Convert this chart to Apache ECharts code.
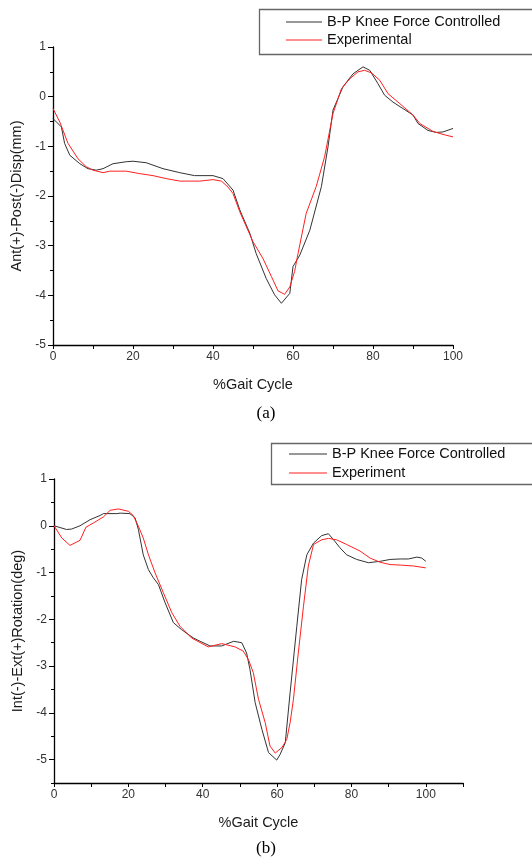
<!DOCTYPE html>
<html>
<head>
<meta charset="utf-8">
<script src="https://cdn.jsdelivr.net/npm/echarts@6/dist/echarts.min.js"></script>
<style>
  html,body{margin:0;padding:0;background:#fff;}
  #main{width:532px;height:859px;}
</style>
</head>
<body>
<div id="main"></div>
<script>
'use strict';
// (a) Ant/Post displacement
var dispBpX = [0,2.1,2.9,4.2,6.7,8.75,10.8,12.5,15,18.3,20,23.3,27.5,31.7,35.4,40,42.5,45,46.7,49.2,50.8,53.3,55.4,57.1,59.2,60,61.7,64.2,67.1,68.75,70,72.5,75,77.5,79.2,81.25,82.9,85,87.5,90,91.25,93.75,95.8,97.5,100];
var dispBpY = [-0.44,-0.61,-0.94,-1.18,-1.35,-1.45,-1.48,-1.45,-1.35,-1.31,-1.30,-1.33,-1.45,-1.53,-1.59,-1.59,-1.65,-1.88,-2.28,-2.75,-3.16,-3.66,-3.99,-4.16,-3.96,-3.42,-3.19,-2.69,-1.81,-1.01,-0.27,0.20,0.46,0.60,0.53,0.26,0.03,-0.11,-0.24,-0.37,-0.54,-0.68,-0.72,-0.71,-0.64];
var dispExpX = [0,1.7,3.75,6.25,8.3,10,12.5,14.2,18.3,21.7,25,28.3,31.7,36.7,40,42.1,43.75,45,46.7,50,52.5,54.6,56.25,57.9,59.2,60.4,61.25,63.3,65.8,67.9,70,72.1,74.2,76.25,77.9,79.6,81.7,83.75,86.7,90,91.7,95,97.5,100];
var dispExpY = [-0.24,-0.51,-0.94,-1.25,-1.41,-1.48,-1.53,-1.50,-1.50,-1.55,-1.59,-1.65,-1.70,-1.70,-1.67,-1.70,-1.82,-1.95,-2.32,-2.92,-3.26,-3.62,-3.91,-3.98,-3.83,-3.52,-3.16,-2.35,-1.81,-1.21,-0.34,0.16,0.36,0.50,0.53,0.48,0.33,0.06,-0.14,-0.37,-0.54,-0.70,-0.76,-0.81];

// (b) Int/Ext rotation
var rotBpX = [0,3.4,4.75,7,9.7,12.4,13.3,16.9,17.8,20.4,21.8,22.7,24,25.4,26.7,28.1,29.9,32.1,34.3,37.5,39.3,42,45.1,48.3,50.5,51.8,52.7,54.1,55.9,57.7,59.9,60.8,62.2,63.5,65.3,66.6,68,69.8,72,73.8,75.2,76.9,78.7,81.4,84.6,87.7,90.4,93.1,95.3,97.6,98.9,100];
var rotBpY = [0,-0.08,-0.07,0,0.13,0.22,0.26,0.26,0.27,0.26,0.17,-0.08,-0.62,-0.94,-1.11,-1.26,-1.65,-2.07,-2.22,-2.40,-2.47,-2.57,-2.57,-2.47,-2.50,-2.72,-3.07,-3.78,-4.35,-4.85,-5.01,-4.89,-4.64,-3.57,-2.15,-1.15,-0.62,-0.37,-0.21,-0.17,-0.30,-0.47,-0.62,-0.72,-0.79,-0.76,-0.72,-0.71,-0.71,-0.67,-0.69,-0.76];
var rotExpX = [0,2.1,4.3,7,8.6,10.6,13.3,15.1,17.3,20,21.3,22.7,24,25.4,27.2,29.4,31.7,33.9,37,41.5,45.1,48.7,50.9,52.3,53.6,55,56.8,58.1,59.5,61.3,62.6,63.5,64.4,65.7,67.1,68.4,69.8,72,73.8,76,78.7,82.3,85,87.7,90.4,93.1,96.7,100];
var rotExpY = [0,-0.26,-0.42,-0.31,-0.03,0.06,0.19,0.33,0.36,0.31,0.22,-0.01,-0.26,-0.62,-1.01,-1.43,-1.86,-2.15,-2.40,-2.59,-2.52,-2.59,-2.68,-2.86,-3.14,-3.71,-4.21,-4.71,-4.86,-4.74,-4.57,-4.21,-3.71,-2.72,-1.72,-0.86,-0.40,-0.30,-0.27,-0.30,-0.40,-0.54,-0.69,-0.78,-0.83,-0.84,-0.86,-0.90];

// tick positions for the lower y axis (it stops at -5.5)
var rotMajorTicks = [-5,-4,-3,-2,-1,0,1];
var rotHalfTicks = [-5.5,-4.5,-3.5,-2.5,-1.5,-0.5,0.5];

var FONT = '"Liberation Sans", Arial, sans-serif';

function pairs(xs, ys){
  var out = [];
  for (var i = 0; i < xs.length; i++) { out.push([xs[i], ys[i]]); }
  return out;
}

var nameStyle = {fontFamily:FONT, fontSize:14.5, color:'#1a1a1a'};
var labelStyle = {fontFamily:FONT, fontSize:12, color:'#333', margin:7};
var legendText = {fontFamily:FONT, fontSize:14.5, lineHeight:16, color:'#111'};

function xAxisOf(idx, max){
  return {
    type:'value', gridIndex:idx, min:0, max:max, interval:10,
    name:'%Gait Cycle', nameLocation:'middle', nameGap:32, nameTextStyle:nameStyle,
    axisLine:{onZero:false, lineStyle:{color:'#000', width:1.3}},
    axisTick:{length:4, lineStyle:{color:'#000'}},
    axisLabel:{fontFamily:FONT, fontSize:12, color:'#333', margin:6,
      formatter:function(v){ return (v % 20 === 0 && v <= 100) ? v : ''; }},
    splitLine:{show:false}
  };
}

var myChart = echarts.init(document.getElementById('main'), null, {renderer:'canvas'});
var option = {
  backgroundColor:'#fff',
  animation:false,
  grid:[
    {left:53, top:47, width:400, height:298},
    {left:54, top:479, width:409, height:304}
  ],
  xAxis:[xAxisOf(0, 100), xAxisOf(1, 110)],
  yAxis:[
    {
      type:'value', gridIndex:0, min:-5, max:1, interval:1,
      name:'Ant(+)-Post(-)Disp(mm)', nameLocation:'middle', nameGap:28, nameTextStyle:nameStyle,
      axisLine:{onZero:false, lineStyle:{color:'#000', width:1.3}},
      axisTick:{length:5, lineStyle:{color:'#000'}},
      minorTick:{show:true, splitNumber:2, length:3, lineStyle:{color:'#000'}},
      axisLabel:labelStyle, splitLine:{show:false}
    },
    {
      type:'value', gridIndex:1, min:-5.5, max:1,
      name:'Int(-)-Ext(+)Rotation(deg)', nameLocation:'middle', nameGap:28, nameTextStyle:nameStyle,
      axisLine:{onZero:false, lineStyle:{color:'#000', width:1.3}},
      axisTick:{length:5, customValues:rotMajorTicks, lineStyle:{color:'#000'}},
      axisLabel:Object.assign({customValues:rotMajorTicks}, labelStyle),
      splitLine:{show:false}
    },
    {
      //short half ticks only
      type:'value', gridIndex:1, min:-5.5, max:1, position:'left',
      axisLine:{show:false},
      axisTick:{length:3, customValues:rotHalfTicks, lineStyle:{color:'#000'}},
      axisLabel:{show:false}, splitLine:{show:false}
    }
  ],
  legend:[
    {orient:'vertical', left:286, top:14, padding:0, itemWidth:36, itemHeight:1, itemGap:2, icon:'rect',
      textStyle:legendText, data:['B-P Knee Force Controlled','Experimental']},
    {orient:'vertical', left:289, top:446, padding:0, itemWidth:38, itemHeight:1, itemGap:3, icon:'rect',
      textStyle:legendText, data:['B-P Knee Force Controlled ','Experiment']}
  ],
  title:[
    {text:'(a)', left:'center', top:400,
      textStyle:{fontFamily:'"Liberation Serif", "Times New Roman", serif', fontSize:17, fontWeight:'normal', color:'#000'}},
    {text:'(b)', left:'center', top:835,
      textStyle:{fontFamily:'"Liberation Serif", "Times New Roman", serif', fontSize:17, fontWeight:'normal', color:'#000'}}
  ],
  graphic:[
    //legend frames
    {type:'rect', shape:{x:259.5, y:9.5, width:300, height:45}, style:{fill:'none', stroke:'#666', lineWidth:1.3}, z:-1},
    {type:'rect', shape:{x:271.5, y:443.5, width:300, height:41}, style:{fill:'none', stroke:'#666', lineWidth:1.3}, z:-1}
  ],
  series:[
    {name:'B-P Knee Force Controlled', type:'line', xAxisIndex:0, yAxisIndex:0, data:pairs(dispBpX, dispBpY),
      symbol:'none', lineStyle:{color:'#333', width:1}, itemStyle:{color:'#333'}},
    {name:'Experimental', type:'line', xAxisIndex:0, yAxisIndex:0, data:pairs(dispExpX, dispExpY),
      symbol:'none', lineStyle:{color:'#ff2020', width:1}, itemStyle:{color:'#ff2020'}},
    {name:'B-P Knee Force Controlled ', type:'line', xAxisIndex:1, yAxisIndex:1, data:pairs(rotBpX, rotBpY),
      symbol:'none', lineStyle:{color:'#333', width:1}, itemStyle:{color:'#333'}},
    {name:'Experiment', type:'line', xAxisIndex:1, yAxisIndex:1, data:pairs(rotExpX, rotExpY),
      symbol:'none', lineStyle:{color:'#ff2020', width:1}, itemStyle:{color:'#ff2020'}}
  ]
};
myChart.setOption(option);
</script>
</body>
</html>
